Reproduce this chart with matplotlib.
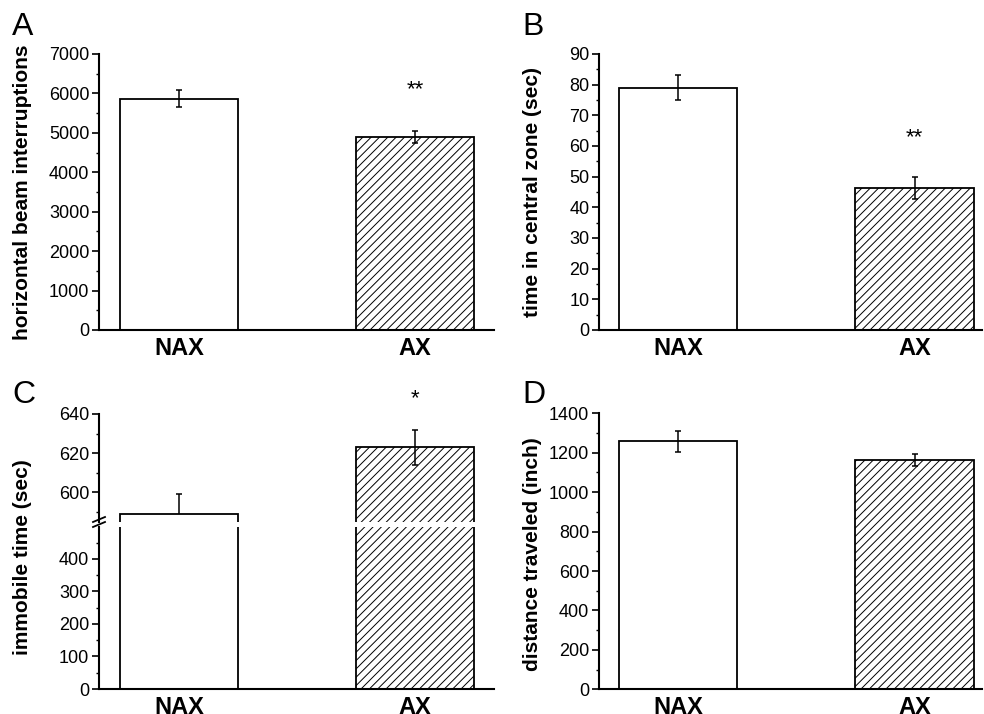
import matplotlib
matplotlib.use('Agg')
import matplotlib.pyplot as plt
from matplotlib.ticker import MultipleLocator
from matplotlib.lines import Line2D

plt.rcParams['font.family'] = ['Liberation Sans', 'DejaVu Sans']
plt.rcParams['hatch.linewidth'] = 0.7
plt.rcParams['hatch.color'] = '#444444'

groups = ['NAX', 'AX']

beam_mean = [5870, 4890]
beam_err = [210, 145]

central_mean = [79, 46.3]
central_err = [4, 3.7]

immobile_mean = [589, 623]
immobile_err = [10, 9]

distance_mean = [1258, 1163]
distance_err = [54, 30]

W, H = 984, 714
fig = plt.figure(figsize=(W / 100, H / 100), dpi=100)


def px_axes(left, right, top, bottom):
    return fig.add_axes([left / W, (H - bottom) / H, (right - left) / W, (bottom - top) / H])


def style(ax, major, minor, xaxis=True):
    for s in ['top', 'right']:
        ax.spines[s].set_visible(False)
    ax.spines['left'].set_linewidth(1.5)
    ax.spines['bottom'].set_linewidth(1.5)
    ax.yaxis.set_major_locator(MultipleLocator(major))
    ax.yaxis.set_minor_locator(MultipleLocator(minor))
    ax.tick_params(axis='y', which='major', length=5, width=1.2, labelsize=13, pad=2)
    ax.tick_params(axis='y', which='minor', length=2.5, width=1.0)
    if xaxis:
        ax.set_xticks([0, 1])
        ax.set_xticklabels(groups, fontsize=17, fontweight='bold')
        ax.tick_params(axis='x', length=0, pad=5)
    else:
        ax.spines['bottom'].set_visible(False)
        ax.set_xticks([])


def bars(ax, mean, err, err_behind=(False, False)):
    ax.bar([0], [mean[0]], width=0.5, color='white', edgecolor='black', linewidth=1.3, zorder=2)
    ax.bar([1], [mean[1]], width=0.5, color='white', edgecolor='black', linewidth=1.3,
           hatch='////', zorder=2)
    for i in range(2):
        ax.errorbar([i], [mean[i]], yerr=[err[i]], fmt='none', ecolor='black', elinewidth=1.1,
                    capsize=2.5, capthick=1.1, zorder=1 if err_behind[i] else 3)


# panel A
axA = px_axes(99, 494, 54, 330)
bars(axA, beam_mean, beam_err)
axA.set_xlim(-0.339, 1.335)
axA.set_ylim(0, 7000)
style(axA, 1000, 500)
axA.text(1, 6087, '**', ha='center', va='center', fontsize=16)

# panel B
axB = px_axes(599, 982, 54, 330)
bars(axB, central_mean, central_err)
axB.set_xlim(-0.334, 1.285)
axB.set_ylim(0, 90)
style(axB, 10, 5)
axB.text(1, 62.6, '**', ha='center', va='center', fontsize=16)

# panel C (broken axis)
axCu = px_axes(99, 494, 414, 521.7)
axCl = px_axes(99, 494, 526.7, 689)
for ax in (axCu, axCl):
    bars(ax, immobile_mean, immobile_err, err_behind=(True, False))
    ax.set_xlim(-0.339, 1.335)
axCu.set_ylim(585, 640)
axCl.set_ylim(0, 499)
style(axCu, 20, 10, xaxis=False)
style(axCl, 100, 50)
axCu.text(1, 647.7, '*', ha='center', va='center', fontsize=16, clip_on=False)
for y0 in (522, 527):
    fig.add_artist(Line2D([93 / W, 105 / W], [(H - y0) / H, (H - y0 + 5) / H],
                          color='black', linewidth=1.3))

# panel D
axD = px_axes(599, 982, 413.3, 689.3)
bars(axD, distance_mean, distance_err)
axD.set_xlim(-0.334, 1.285)
axD.set_ylim(0, 1400)
style(axD, 200, 100)

# y labels
fig.text(23 / W, 1 - 192 / H, 'horizontal beam interruptions', rotation=90, ha='center',
         va='center', fontsize=15, fontweight='bold')
fig.text(533 / W, 1 - 192 / H, 'time in central zone (sec)', rotation=90, ha='center',
         va='center', fontsize=15, fontweight='bold')
fig.text(23 / W, 1 - 557 / H, 'immobile time (sec)', rotation=90, ha='center',
         va='center', fontsize=15, fontweight='bold')
fig.text(533 / W, 1 - 554 / H, 'distance traveled (inch)', rotation=90, ha='center',
         va='center', fontsize=15, fontweight='bold')

# panel letters
for lx, ly, s in [(12, 35, 'A'), (522, 35, 'B'), (12, 403, 'C'), (522, 403, 'D')]:
    fig.text(lx / W, 1 - ly / H, s, ha='left', va='baseline', fontsize=23)

fig.savefig('out.png', dpi=100, facecolor='white')
